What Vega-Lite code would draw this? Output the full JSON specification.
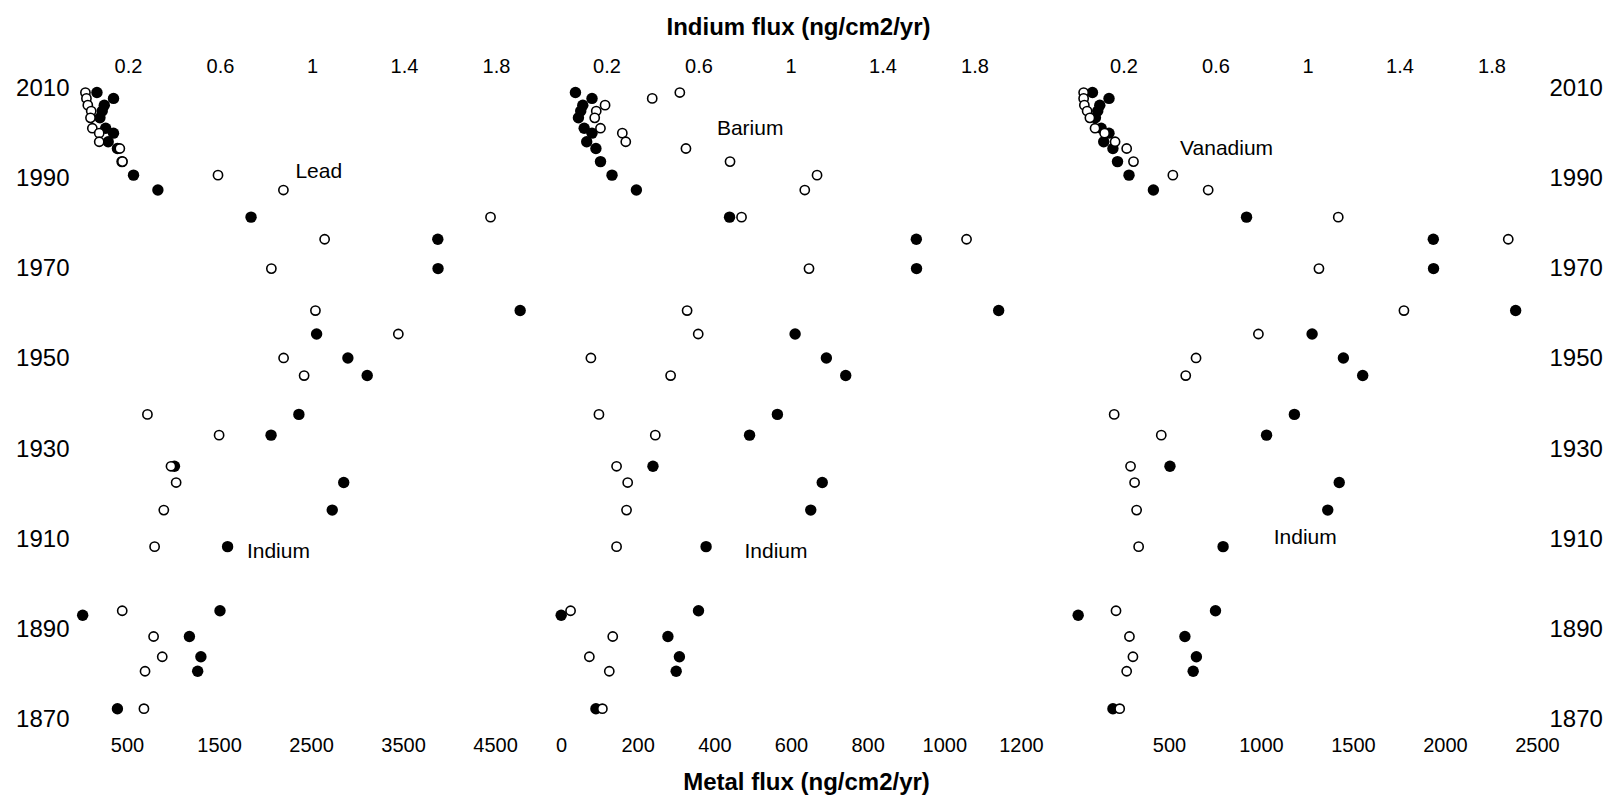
{
  "$schema": "https://vega.github.io/schema/vega-lite/v6.json",
  "padding": {"left": 15, "top": 15, "right": 2, "bottom": 2},
  "background": "#ffffff",
  "config": {
    "font": "Liberation Sans",
    "view": {"stroke": null},
    "axis": {"grid": false, "ticks": false, "domain": false, "labelColor": "#000000", "titleColor": "#000000", "labelFont": "Liberation Sans", "titleFont": "Liberation Sans"}
  },
  "datasets": {
    "core": [
      {"year": 2009.0, "indium": 0.065, "lead": 48, "barium": 310, "vanadium": 36},
      {"year": 2007.7, "indium": 0.137, "lead": 59, "barium": 238, "vanadium": 36},
      {"year": 2006.2, "indium": 0.097, "lead": 74, "barium": 115, "vanadium": 40},
      {"year": 2004.9, "indium": 0.088, "lead": 111, "barium": 92, "vanadium": 55},
      {"year": 2003.4, "indium": 0.078, "lead": 103, "barium": 88, "vanadium": 70},
      {"year": 2001.1, "indium": 0.103, "lead": 123, "barium": 103, "vanadium": 98},
      {"year": 2000.0, "indium": 0.137, "lead": 198, "barium": 160, "vanadium": 150},
      {"year": 1998.1, "indium": 0.114, "lead": 198, "barium": 169, "vanadium": 207},
      {"year": 1996.6, "indium": 0.154, "lead": 422, "barium": 326, "vanadium": 270},
      {"year": 1993.7, "indium": 0.174, "lead": 450, "barium": 441, "vanadium": 307},
      {"year": 1990.7, "indium": 0.224, "lead": 1489, "barium": 668, "vanadium": 521},
      {"year": 1987.4, "indium": 0.33, "lead": 2200, "barium": 636, "vanadium": 713},
      {"year": 1981.4, "indium": 0.735, "lead": 4451, "barium": 471, "vanadium": 1420},
      {"year": 1976.5, "indium": 1.547, "lead": 2648, "barium": 1058, "vanadium": 2344},
      {"year": 1970.0, "indium": 1.548, "lead": 2069, "barium": 647, "vanadium": 1315},
      {"year": 1960.7, "indium": 1.905, "lead": 2548, "barium": 329, "vanadium": 1777},
      {"year": 1955.5, "indium": 1.02, "lead": 3449, "barium": 358, "vanadium": 986},
      {"year": 1950.2, "indium": 1.156, "lead": 2202, "barium": 78, "vanadium": 647},
      {"year": 1946.3, "indium": 1.24, "lead": 2425, "barium": 286, "vanadium": 591},
      {"year": 1937.7, "indium": 0.943, "lead": 722, "barium": 99, "vanadium": 202},
      {"year": 1933.1, "indium": 0.822, "lead": 1501, "barium": 246, "vanadium": 458},
      {"year": 1926.2, "indium": 0.402, "lead": 978, "barium": 145, "vanadium": 291},
      {"year": 1922.6, "indium": 1.138, "lead": 1034, "barium": 174, "vanadium": 313},
      {"year": 1916.5, "indium": 1.088, "lead": 900, "barium": 171, "vanadium": 324},
      {"year": 1908.4, "indium": 0.633, "lead": 800, "barium": 145, "vanadium": 335},
      {"year": 1894.2, "indium": 0.6, "lead": 448, "barium": 25, "vanadium": 212},
      {"year": 1893.2, "indium": 0.003, "lead": null, "barium": null, "vanadium": null},
      {"year": 1888.5, "indium": 0.467, "lead": 789, "barium": 135, "vanadium": 285},
      {"year": 1884.0, "indium": 0.517, "lead": 883, "barium": 74, "vanadium": 304},
      {"year": 1880.8, "indium": 0.503, "lead": 696, "barium": 126, "vanadium": 270},
      {"year": 1872.5, "indium": 0.154, "lead": 684, "barium": 108, "vanadium": 232}
    ],
    "notes": [
      {"panel": 1, "label": "Lead", "x": 0.928, "year": 1991.3},
      {"panel": 1, "label": "Indium", "x": 0.717, "year": 1907.3},
      {"panel": 2, "label": "Barium", "x": 0.68, "year": 2001.0},
      {"panel": 2, "label": "Indium", "x": 0.8, "year": 1907.3},
      {"panel": 3, "label": "Vanadium", "x": 0.446, "year": 1996.4},
      {"panel": 3, "label": "Indium", "x": 0.853, "year": 1910.4}
    ]
  },
  "spacing": 0,
  "bounds": "flush",
  "resolve": {"scale": {"x": "independent", "y": "independent"}, "axis": {"x": "independent", "y": "independent"}},
  "hconcat": [
    {
      "width": 473, "height": 650,
      "resolve": {"scale": {"x": "independent"}, "axis": {"x": "independent"}},
      "layer": [
        {
          "data": {"name": "core"},
          "mark": {"type": "point", "shape": "circle", "filled": true, "color": "#000000", "size": 130, "opacity": 1},
          "encoding": {
            "x": {"field": "indium", "type": "quantitative", "scale": {"domain": [-0.0391, 2.0174], "nice": false, "zero": false}, "axis": {"orient": "top", "values": [0.2, 0.6, 1, 1.4, 1.8], "format": "~g", "title": null, "labelFontSize": 20, "labelPadding": 3}},
            "y": {"field": "year", "type": "quantitative", "scale": {"domain": [1868, 2012], "nice": false, "zero": false}, "axis": {"orient": "left", "values": [1870, 1890, 1910, 1930, 1950, 1970, 1990, 2010], "format": "d", "title": null, "labelFontSize": 24, "labelPadding": 4}}
          }
        },
        {
          "data": {"name": "core"},
          "mark": {"type": "point", "shape": "circle", "filled": true, "fill": "#ffffff", "stroke": "#000000", "strokeWidth": 1.6, "size": 85, "opacity": 1},
          "encoding": {
            "x": {"field": "lead", "type": "quantitative", "scale": {"domain": [-87, 5054], "nice": false, "zero": false}, "axis": {"orient": "bottom", "values": [500, 1500, 2500, 3500, 4500], "format": "d", "title": null, "labelFontSize": 20, "labelPadding": 6}},
            "y": {"field": "year", "type": "quantitative", "scale": {"domain": [1868, 2012], "nice": false, "zero": false}, "axis": {"orient": "left", "values": [1870, 1890, 1910, 1930, 1950, 1970, 1990, 2010], "format": "d", "title": null, "labelFontSize": 24, "labelPadding": 4}}
          }
        },
        {
          "data": {"name": "notes"},
          "transform": [{"filter": "datum.panel == 1"}],
          "mark": {"type": "text", "align": "left", "baseline": "middle", "fontSize": 21, "font": "Liberation Sans", "color": "#000000"},
          "encoding": {
            "x": {"field": "x", "type": "quantitative", "scale": {"domain": [-0.0391, 2.0174], "nice": false, "zero": false}, "axis": null},
            "y": {"field": "year", "type": "quantitative", "scale": {"domain": [1868, 2012], "nice": false, "zero": false}, "axis": {"orient": "left", "values": [1870, 1890, 1910, 1930, 1950, 1970, 1990, 2010], "format": "d", "title": null, "labelFontSize": 24, "labelPadding": 4}},
            "text": {"field": "label", "type": "nominal"}
          }
        }
      ]
    },
    {
      "width": 515, "height": 650,
      "resolve": {"scale": {"x": "independent"}, "axis": {"x": "independent"}},
      "layer": [
        {
          "data": {"name": "core"},
          "mark": {"type": "point", "shape": "circle", "filled": true, "color": "#000000", "size": 130, "opacity": 1},
          "encoding": {
            "x": {"field": "indium", "type": "quantitative", "scale": {"domain": [-0.063, 2.176], "nice": false, "zero": false}, "axis": {"orient": "top", "values": [0.2, 0.6, 1, 1.4, 1.8], "format": "~g", "title": "Indium flux (ng/cm2/yr)", "titleFontSize": 24, "titleFontWeight": "bold", "titleX": 252, "titleY": -45, "titleAlign": "center", "titleBaseline": "alphabetic", "labelFontSize": 20, "labelPadding": 3}},
            "y": {"field": "year", "type": "quantitative", "scale": {"domain": [1868, 2012], "nice": false, "zero": false}, "axis": null}
          }
        },
        {
          "data": {"name": "core"},
          "mark": {"type": "point", "shape": "circle", "filled": true, "fill": "#ffffff", "stroke": "#000000", "strokeWidth": 1.6, "size": 85, "opacity": 1},
          "encoding": {
            "x": {"field": "barium", "type": "quantitative", "scale": {"domain": [-39.1, 1304.4], "nice": false, "zero": false}, "axis": {"orient": "bottom", "values": [0, 200, 400, 600, 800, 1000, 1200], "format": "d", "title": "Metal flux (ng/cm2/yr)", "titleFontSize": 24, "titleFontWeight": "bold", "titleX": 260, "titleY": 60, "titleAlign": "center", "titleBaseline": "alphabetic", "labelFontSize": 20, "labelPadding": 6}},
            "y": {"field": "year", "type": "quantitative", "scale": {"domain": [1868, 2012], "nice": false, "zero": false}, "axis": null}
          }
        },
        {
          "data": {"name": "notes"},
          "transform": [{"filter": "datum.panel == 2"}],
          "mark": {"type": "text", "align": "left", "baseline": "middle", "fontSize": 21, "font": "Liberation Sans", "color": "#000000"},
          "encoding": {
            "x": {"field": "x", "type": "quantitative", "scale": {"domain": [-0.063, 2.176], "nice": false, "zero": false}, "axis": null},
            "y": {"field": "year", "type": "quantitative", "scale": {"domain": [1868, 2012], "nice": false, "zero": false}, "axis": null},
            "text": {"field": "label", "type": "nominal"}
          }
        }
      ]
    },
    {
      "width": 480, "height": 650,
      "resolve": {"scale": {"x": "independent"}, "axis": {"x": "independent"}},
      "layer": [
        {
          "data": {"name": "core"},
          "mark": {"type": "point", "shape": "circle", "filled": true, "color": "#000000", "size": 130, "opacity": 1},
          "encoding": {
            "x": {"field": "indium", "type": "quantitative", "scale": {"domain": [-0.0717, 2.0152], "nice": false, "zero": false}, "axis": {"orient": "top", "values": [0.2, 0.6, 1, 1.4, 1.8], "format": "~g", "title": null, "labelFontSize": 20, "labelPadding": 3}},
            "y": {"field": "year", "type": "quantitative", "scale": {"domain": [1868, 2012], "nice": false, "zero": false}, "axis": {"orient": "right", "values": [1870, 1890, 1910, 1930, 1950, 1970, 1990, 2010], "format": "d", "title": null, "labelFontSize": 24, "labelPadding": 8}}
          }
        },
        {
          "data": {"name": "core"},
          "mark": {"type": "point", "shape": "circle", "filled": true, "fill": "#ffffff", "stroke": "#000000", "strokeWidth": 1.6, "size": 85, "opacity": 1},
          "encoding": {
            "x": {"field": "vanadium", "type": "quantitative", "scale": {"domain": [-87, 2522], "nice": false, "zero": false}, "axis": {"orient": "bottom", "values": [500, 1000, 1500, 2000, 2500], "format": "d", "title": null, "labelFontSize": 20, "labelPadding": 6}},
            "y": {"field": "year", "type": "quantitative", "scale": {"domain": [1868, 2012], "nice": false, "zero": false}, "axis": {"orient": "right", "values": [1870, 1890, 1910, 1930, 1950, 1970, 1990, 2010], "format": "d", "title": null, "labelFontSize": 24, "labelPadding": 8}}
          }
        },
        {
          "data": {"name": "notes"},
          "transform": [{"filter": "datum.panel == 3"}],
          "mark": {"type": "text", "align": "left", "baseline": "middle", "fontSize": 21, "font": "Liberation Sans", "color": "#000000"},
          "encoding": {
            "x": {"field": "x", "type": "quantitative", "scale": {"domain": [-0.0717, 2.0152], "nice": false, "zero": false}, "axis": null},
            "y": {"field": "year", "type": "quantitative", "scale": {"domain": [1868, 2012], "nice": false, "zero": false}, "axis": {"orient": "right", "values": [1870, 1890, 1910, 1930, 1950, 1970, 1990, 2010], "format": "d", "title": null, "labelFontSize": 24, "labelPadding": 8}},
            "text": {"field": "label", "type": "nominal"}
          }
        }
      ]
    }
  ]
}
